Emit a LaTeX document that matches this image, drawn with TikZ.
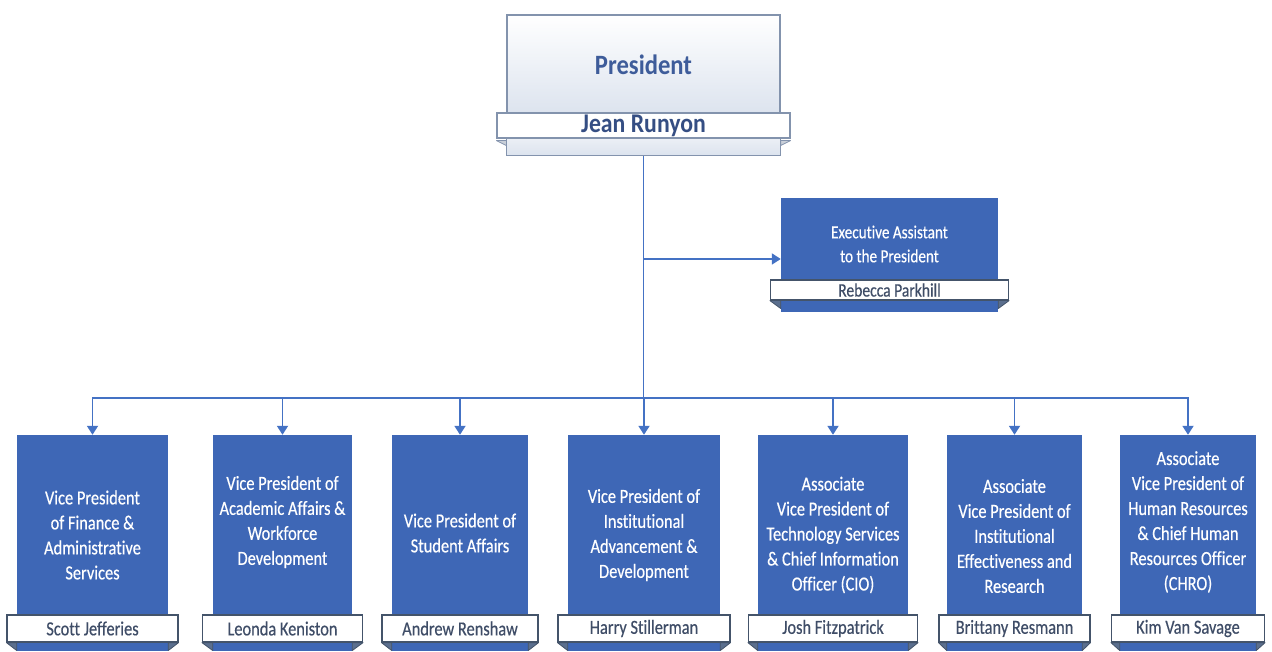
\documentclass[tikz,border=0pt]{standalone}
\usepackage{fontspec}
\setmainfont{Carlito}[FakeStretch=0.82, FakeBold=0.4, Ligatures=NoCommon]
\newfontfamily\headfont{Carlito}[FakeStretch=0.88, Ligatures=NoCommon]
\usetikzlibrary{arrows.meta}
\definecolor{vpblue}{HTML}{3E67B6}
\definecolor{linkblue}{HTML}{4472C4}
\definecolor{namegray}{HTML}{3F4D67}
\definecolor{frame}{HTML}{44546A}
\definecolor{foldgray}{HTML}{5B6F8E}
\definecolor{presblue}{HTML}{3E5C9A}
\definecolor{presframe}{HTML}{8393AD}
\definecolor{presshade}{HTML}{DCE3EE}

\begin{document}
\begin{tikzpicture}[x=1pt, y=1pt,
    vpbox/.style={fill=vpblue, text=white, align=center, inner sep=0pt,
      font=\fontsize{20}{25}\selectfont},
    namebox/.style={fill=white, draw=frame, line width=1.2pt, text=namegray,
      minimum height=27pt, inner sep=0pt, font=\fontsize{20}{24}\selectfont},
    presbox/.style={top color=white, bottom color=presshade, draw=presframe,
      line width=1.2pt, text=presblue, inner sep=0pt},
    fold/.style={fill=foldgray, draw=frame, line width=0.8pt, line join=round},
    link/.style={draw=linkblue, line width=1.8pt},
    >={Triangle[length=9pt, width=11pt]}]
  \useasboundingbox (0,0) rectangle (1272,651);

  % president
  \node[presbox, minimum width=273pt, minimum height=100pt,
    font=\fontsize{28}{30}\selectfont\headfont\bfseries] (pres) at (643.5,586) {President};
  \coordinate (presbottom) at ([yshift=-40pt]pres.south);
  \draw[presbox, fill=presshade] (pres.south west) rectangle (presbottom -| pres.east);
  \filldraw[fold, fill=presshade!80!gray, draw=presframe] (pres.south west) ++(-10,-25) -- ++(10,0) -- ++(0,-5) -- cycle;
  \filldraw[fold, fill=presshade!80!gray, draw=presframe] (pres.south east) ++(10,-25) -- ++(-10,0) -- ++(0,-5) -- cycle;
  \node[namebox, minimum width=293pt, minimum height=25pt, draw=presframe, text=presblue!85!black,
    font=\fontsize{27}{30}\selectfont\headfont\bfseries] (presname) at (643.5,525.5) {Jean Runyon};

  % executive assistant
  \node[vpbox, minimum width=217pt, minimum height=92pt,
    font=\fontsize{18.5}{24}\selectfont] (exec) at (889.5,407) {Executive Assistant\\to the President};
  \fill[vpblue] (exec.south west) rectangle ([yshift=-22pt]exec.south east);
  \node[namebox, minimum width=238pt, minimum height=20pt,
    font=\fontsize{19}{22}\selectfont] (execname) at (889.5,361) {Rebecca Parkhill};
  \filldraw[fold] (execname.south west) -- (exec.west |- execname.south) -- ++(0,-8) -- cycle;
  \filldraw[fold] (execname.south east) -- (exec.east |- execname.south) -- ++(0,-8) -- cycle;

  % vice presidents
  \node[vpbox, minimum width=151pt, minimum height=200pt] (fin) at (92.5,116)
    {Vice President\\of Finance \&\\Administrative\\Services};
  \node[vpbox, minimum width=139pt, minimum height=174pt] (acad) at (282.5,129)
    {Vice President of\\Academic Affairs \&\\Workforce\\Development};
  \node[vpbox, minimum width=136pt, minimum height=196pt] (stud) at (460,118)
    {Vice President of\\Student Affairs};
  \node[vpbox, minimum width=152pt, minimum height=200pt] (inst) at (644,116)
    {Vice President of\\Institutional\\Advancement \&\\Development};
  \node[vpbox, minimum width=150pt, minimum height=200pt] (tech) at (833,116)
    {Associate\\Vice President of\\Technology Services\\\& Chief Information\\Officer (CIO)};
  \node[vpbox, minimum width=135pt, minimum height=202pt] (ie) at (1014.5,115)
    {Associate\\Vice President of\\Institutional\\Effectiveness and\\Research};
  \node[vpbox, minimum width=136pt, minimum height=174pt] (hr) at (1188,129)
    {Associate\\Vice President of\\Human Resources\\\& Chief Human\\Resources Officer\\(CHRO)};

  \fill[vpblue] (fin.south west) rectangle (fin.east |- 0,0);
  \fill[vpblue] (acad.south west) rectangle (acad.east |- 0,0);
  \fill[vpblue] (stud.south west) rectangle (stud.east |- 0,0);
  \fill[vpblue] (inst.south west) rectangle (inst.east |- 0,0);
  \fill[vpblue] (tech.south west) rectangle (tech.east |- 0,0);
  \fill[vpblue] (ie.south west) rectangle (ie.east |- 0,0);
  \fill[vpblue] (hr.south west) rectangle (hr.east |- 0,0);

  \node[namebox, minimum width=171pt] (finname) at (92.5,22.5) {Scott Jefferies};
  \node[namebox, minimum width=160pt] (acadname) at (282.5,22.5) {Leonda Keniston};
  \node[namebox, minimum width=156pt] (studname) at (460,22.5) {Andrew Renshaw};
  \node[namebox, minimum width=172pt] (instname) at (644,22.5) {Harry Stillerman};
  \node[namebox, minimum width=169pt] (techname) at (833,22.5) {Josh Fitzpatrick};
  \node[namebox, minimum width=151pt] (iename) at (1014.5,22.5) {Brittany Resmann};
  \node[namebox, minimum width=153pt] (hrname) at (1188,22.5) {Kim Van Savage};

  \filldraw[fold] (finname.south west) -- (fin.west |- finname.south) -- ++(0,-8) -- cycle;
  \filldraw[fold] (finname.south east) -- (fin.east |- finname.south) -- ++(0,-8) -- cycle;
  \filldraw[fold] (acadname.south west) -- (acad.west |- acadname.south) -- ++(0,-8) -- cycle;
  \filldraw[fold] (acadname.south east) -- (acad.east |- acadname.south) -- ++(0,-8) -- cycle;
  \filldraw[fold] (studname.south west) -- (stud.west |- studname.south) -- ++(0,-8) -- cycle;
  \filldraw[fold] (studname.south east) -- (stud.east |- studname.south) -- ++(0,-8) -- cycle;
  \filldraw[fold] (instname.south west) -- (inst.west |- instname.south) -- ++(0,-8) -- cycle;
  \filldraw[fold] (instname.south east) -- (inst.east |- instname.south) -- ++(0,-8) -- cycle;
  \filldraw[fold] (techname.south west) -- (tech.west |- techname.south) -- ++(0,-8) -- cycle;
  \filldraw[fold] (techname.south east) -- (tech.east |- techname.south) -- ++(0,-8) -- cycle;
  \filldraw[fold] (iename.south west) -- (ie.west |- iename.south) -- ++(0,-8) -- cycle;
  \filldraw[fold] (iename.south east) -- (ie.east |- iename.south) -- ++(0,-8) -- cycle;
  \filldraw[fold] (hrname.south west) -- (hr.west |- hrname.south) -- ++(0,-8) -- cycle;
  \filldraw[fold] (hrname.south east) -- (hr.east |- hrname.south) -- ++(0,-8) -- cycle;

  % connectors
  \coordinate (bus) at (643.5,253);
  \coordinate (tap) at (643.5,392);
  \draw[link] (presbottom) -- (bus);
  \draw[link, ->] (tap) -- (tap -| exec.west);
  \draw[link, line cap=rect] (fin.north |- bus) -- (hr.north |- bus);
  \draw[link, ->] (fin.north |- bus) -- (fin.north);
  \draw[link, ->] (acad.north |- bus) -- (acad.north);
  \draw[link, ->] (stud.north |- bus) -- (stud.north);
  \draw[link, ->] (inst.north |- bus) -- (inst.north);
  \draw[link, ->] (tech.north |- bus) -- (tech.north);
  \draw[link, ->] (ie.north |- bus) -- (ie.north);
  \draw[link, ->] (hr.north |- bus) -- (hr.north);
\end{tikzpicture}
\end{document}
